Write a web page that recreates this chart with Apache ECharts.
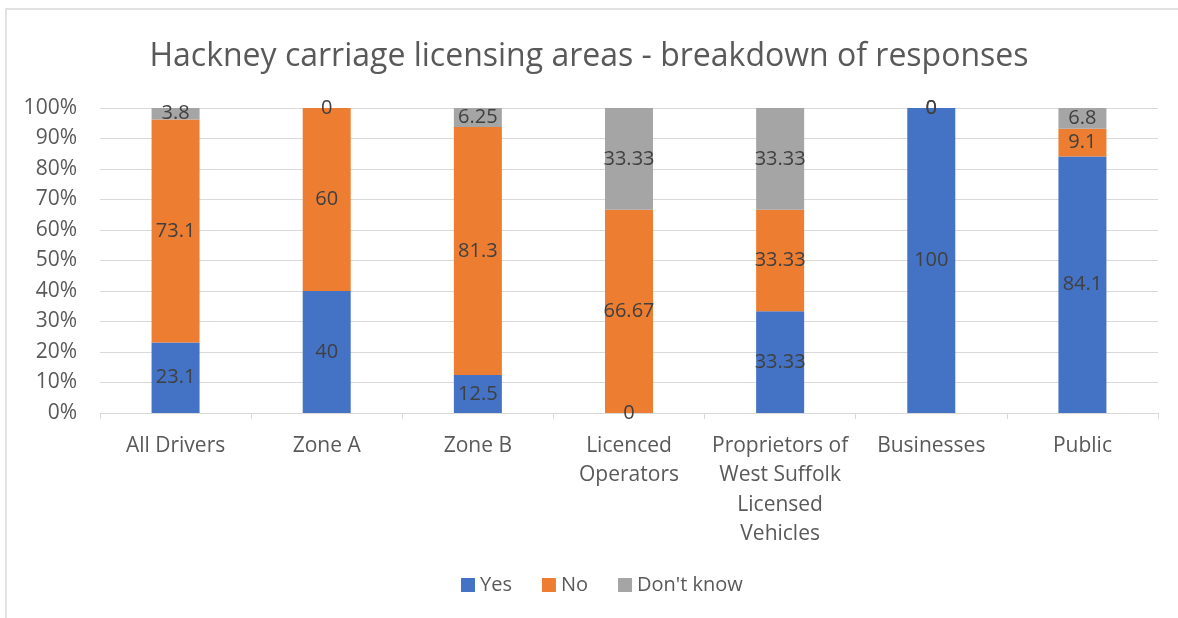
<!DOCTYPE html>
<html>
<head>
<meta charset="utf-8">
<script src="https://cdn.jsdelivr.net/npm/echarts@6/dist/echarts.min.js"></script>
<style>
  html, body { margin: 0; padding: 0; background: #fff; }
  #box { width: 1178px; height: 618px; }
</style>
</head>
<body>
<div id="box"></div>
<script>
// 数据
const categories = ['All Drivers', 'Zone A', 'Zone B', 'Licenced\nOperators',
  'Proprietors of\nWest Suffolk\nLicensed\nVehicles', 'Businesses', 'Public']
const yes = [23.1, 40, 12.5, 0, 33.33, 100, 84.1]
const no = [73.1, 60, 81.3, 66.67, 33.33, 0, 9.1]
const dontKnow = [3.8, 0, 6.25, 33.33, 33.33, 0, 6.8]
const seriesNames = ['Yes', 'No', "Don't know"]
const colors = ['#4472C4', '#ED7D31', '#A5A5A5']

const raw = [yes, no, dontKnow]
const totals = categories.map((c, i) => yes[i] + no[i] + dontKnow[i])

const font = '"Open Sans", "Liberation Sans", sans-serif'
const myChart = echarts.init(document.getElementById('box'))

const series = raw.map((arr, s) => ({
  name: seriesNames[s],
  type: 'bar',
  stack: 'Total',
  barWidth: 48,
  itemStyle: { color: colors[s] },
  label: {
    show: true,
    position: 'inside',
    color: '#404040',
    fontSize: 20,
    fontFamily: font,
    formatter: p => String(arr[p.dataIndex])
  },
  data: arr.map((v, i) => v / totals[i] * 100)
}))

myChart.setOption({
  animation: false,
  title: {
    text: 'Hackney carriage licensing areas - breakdown of responses',
    left: 'center',
    top: 36,
    textStyle: { color: '#595959', fontSize: 32, fontWeight: 'normal', fontFamily: font }
  },
  legend: {
    bottom: 18,
    left: 456,
    itemWidth: 14,
    itemHeight: 14,
    itemGap: 30,
    icon: 'rect',
    textStyle: { color: '#595959', fontSize: 20, fontFamily: font },
    data: seriesNames
  },
  grid: { left: 100, right: 20, top: 108, bottom: 205, containLabel: false },
  xAxis: {
    type: 'category',
    data: categories,
    axisLine: { lineStyle: { color: '#D9D9D9' } },
    axisTick: { show: true, length: 6, lineStyle: { color: '#D9D9D9' } },
    axisLabel: { interval: 0, hideOverlap: false, color: '#595959', fontSize: 21, fontFamily: font, lineHeight: 29.5, margin: 18 }
  },
  yAxis: {
    type: 'value',
    min: 0,
    max: 100,
    interval: 10,
    axisLabel: { color: '#595959', fontSize: 21, fontFamily: font, formatter: '{value}%', margin: 23 },
    splitLine: { lineStyle: { color: '#D9D9D9' } },
    axisLine: { show: false },
    axisTick: { show: false }
  },
  graphic: [{
    type: 'rect',
    shape: { x: 6, y: 9, width: 1200, height: 700 },
    style: { fill: 'none', stroke: '#D9D9D9', lineWidth: 1.5 },
    silent: true
  }],
  series: series
})
</script>
</body>
</html>
